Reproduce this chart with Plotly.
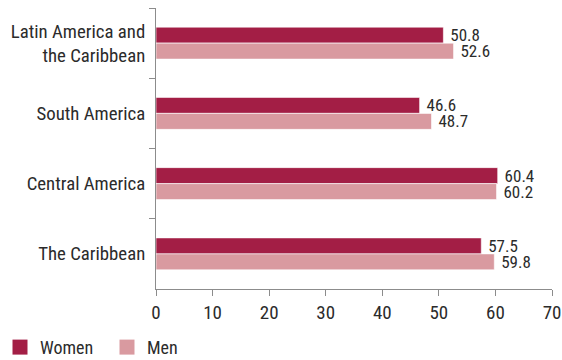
import plotly.graph_objects as go

categories = ["Latin America and<br>the Caribbean", "South America", "Central America", "The Caribbean"]
women = [50.8, 46.6, 60.4, 57.5]
men = [52.6, 48.7, 60.2, 59.8]
x_ticks = [0, 10, 20, 30, 40, 50, 60, 70]

FONT = "Roboto Condensed, Liberation Sans Narrow, Roboto, sans-serif"
WOMEN_C = "#A31E45"
MEN_C = "#D99AA0"
TXT = "#2b2b2b"
AX = "#8c8c8c"

fig = go.Figure()
fig.add_trace(go.Bar(name="Women", y=categories, x=women, orientation="h",
                     marker=dict(color=WOMEN_C, line=dict(color="white", width=0.6)),
                     text=["\u00a0" + f"{v:.1f}" for v in women], textposition="outside",
                     constraintext="none", legendgroup="w", showlegend=False,
                     textfont=dict(size=17, color=TXT, family=FONT), cliponaxis=False))
fig.add_trace(go.Bar(name="Men", y=categories, x=men, orientation="h",
                     marker=dict(color=MEN_C, line=dict(color="white", width=0.6)),
                     text=["\u00a0" + f"{v:.1f}" for v in men], textposition="outside",
                     constraintext="none", legendgroup="m", showlegend=False,
                     textfont=dict(size=17, color=TXT, family=FONT), cliponaxis=False))
# legend entries
fig.add_trace(go.Scatter(name="Women", x=[None], y=[None], mode="markers", legendgroup="w",
                         marker=dict(symbol="square", size=15, color=WOMEN_C)))
fig.add_trace(go.Scatter(name="Men", x=[None], y=[None], mode="markers", legendgroup="m",
                         marker=dict(symbol="square", size=15, color=MEN_C)))

fig.update_layout(
    width=562, height=360,
    margin=dict(l=156, r=10, t=8, b=71, autoexpand=False),
    barmode="group", bargap=0.545, bargroupgap=0,
    plot_bgcolor="white", paper_bgcolor="white",
    font=dict(family=FONT, size=18, color=TXT),
    showlegend=True,
    legend=dict(orientation="h", xref="container", yref="container",
                x=-0.02, y=0.035, xanchor="left", yanchor="middle",
                font=dict(size=18), itemwidth=30, traceorder="normal",
                entrywidth=62, entrywidthmode="pixels"),
    xaxis=dict(range=[0, 70], tickvals=x_ticks, showgrid=False, zeroline=False,
               showline=True, linecolor=AX, linewidth=1, automargin=False,
               ticks="outside", ticklen=6, tickcolor=AX, tickfont=dict(size=19),
               ticklabeloverflow="allow"),
    yaxis=dict(autorange="reversed", showgrid=False, showline=True, linecolor=AX,
               linewidth=1, ticks="outside", ticklen=6, tickcolor=AX,
               tickson="boundaries", automargin=False, ticklabelstandoff=6,
               tickfont=dict(size=18.8)),
)
fig.write_html("out.html")
